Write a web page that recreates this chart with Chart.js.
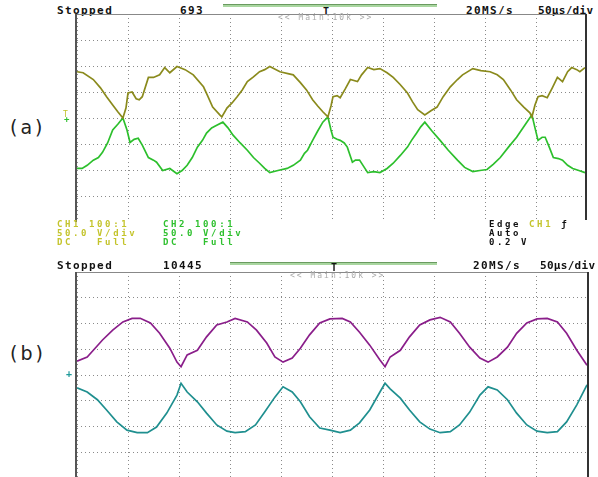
<!DOCTYPE html>
<html>
<head>
<meta charset="utf-8">
<script src="https://cdn.jsdelivr.net/npm/chart.js@4.4.0/dist/chart.umd.min.js"></script>
<style>
body{margin:0;background:#fff;overflow:hidden;}
#page{position:relative;width:598px;height:477px;overflow:hidden;font-family:"DejaVu Sans Mono",monospace;}
.t{position:absolute;white-space:pre;font-size:9px;line-height:9px;letter-spacing:2.6px;}
.h{font-size:11px;line-height:11px;letter-spacing:1.4px;font-weight:bold;color:#111;}
.y{color:#c4c42c;font-weight:bold;}
.g{color:#2fc02f;font-weight:bold;}
.k{color:#111;font-weight:bold;}
.m{font-size:8px;line-height:8px;letter-spacing:2px;color:#aaa;}
.lab{position:absolute;font-family:"DejaVu Sans",sans-serif;font-size:19px;letter-spacing:3px;color:#222;}
.ln{position:absolute;}
.box{position:absolute;}
</style>
</head>
<body>
<div id="page">
  <!-- panel (a) header -->
  <div class="t h" style="left:57px;top:5px">Stopped</div>
  <div class="t h" style="left:180px;top:5px">693</div>
  <div class="ln" style="left:223px;top:4px;width:214px;height:2px;background:#a9d6a0;border-top:1px solid #6a9a60"></div>
  <div class="t h" style="left:323px;top:6px;font-size:10px">T</div>
  <div class="t h" style="left:466px;top:5px">20MS/s</div>
  <div class="t h" style="left:538px;top:5px;letter-spacing:0.3px">50µs/div</div>

  <div class="box" style="left:77px;top:14px;width:510px;height:208px"><canvas id="scopeA" width="510" height="208"></canvas></div>
  <div class="ln" style="left:76px;top:14px;width:511px;height:1px;background:#888"></div>
  <div class="ln" style="left:75px;top:14px;width:2px;height:208px;background:#555"></div>
  <div class="ln" style="left:585px;top:14px;width:2px;height:206px;background:#333"></div>
  <div class="t m" style="left:278px;top:14px">&lt;&lt; Main:10k &gt;&gt;</div>
  <div class="t" style="left:63px;top:110px;font-size:8px;color:#c2c22a">T</div>
  <div class="t" style="left:64px;top:115px;font-size:9px;color:#2fc02f;font-weight:bold">+</div>

  <!-- panel (a) footer -->
  <div class="t y" style="left:57px;top:220px">CH1 100:1</div>
  <div class="t y" style="left:57px;top:229px">50.0 V/div</div>
  <div class="t y" style="left:57px;top:238px">DC   Full</div>
  <div class="t g" style="left:163px;top:220px">CH2 100:1</div>
  <div class="t g" style="left:163px;top:229px">50.0 V/div</div>
  <div class="t g" style="left:163px;top:238px">DC   Full</div>
  <div class="t k" style="left:489px;top:220px">Edge <span class="y">CH1</span> ƒ</div>
  <div class="t k" style="left:489px;top:229px">Auto</div>
  <div class="t k" style="left:489px;top:238px">0.2 V</div>

  <div class="lab" style="left:10px;top:116px">(a)</div>

  <!-- panel (b) header -->
  <div class="t h" style="left:57px;top:260px">Stopped</div>
  <div class="t h" style="left:163px;top:260px">10445</div>
  <div class="ln" style="left:230px;top:262px;width:207px;height:2px;background:#a9d6a0;border-top:1px solid #6a9a60"></div>
  <div class="t h" style="left:331px;top:262px;font-size:10px">T</div>
  <div class="t h" style="left:473px;top:260px">20MS/s</div>
  <div class="t h" style="left:540px;top:260px;letter-spacing:0.3px">50µs/div</div>

  <div class="box" style="left:77px;top:272px;width:510px;height:206px"><canvas id="scopeB" width="510" height="206"></canvas></div>
  <div class="ln" style="left:76px;top:272px;width:511px;height:1px;background:#888"></div>
  <div class="ln" style="left:75px;top:272px;width:2px;height:206px;background:#555"></div>
  <div class="ln" style="left:587px;top:272px;width:2px;height:206px;background:#333"></div>
  <div class="t m" style="left:290px;top:272px">&lt;&lt; Main:10k &gt;&gt;</div>
  <div class="t" style="left:66px;top:369px;font-size:10px;color:#1f9a9a;font-weight:bold">+</div>

  <div class="lab" style="left:10px;top:342px">(b)</div>
</div>

<script>
// time in us, voltage in V (50 V/div, 50 us/div)
const tOlive = [0,6,16,23,29,35,40,45,48,50,54,58,61,64,70,75,81,86,91,98,106,114,124,128,133,140,142,147,152,157,162,167,173,179,184,189,199,212,219,225,231,236,241,246,249,251,255,258,263,268,275,279,285,291,297,304,310,317,324,329,334,341,347,353,359,366,373,378,388,396,405,412,418,425,431,438,444,446,449,452,456,461,466,471,476,481,485,490,493,498];
const vOlive = [89,87,74,58,41,25,12,0,19,48,50,37,35,41,78,78,83,97,87,99,93,83,60,43,21,6,2,19,29,41,54,70,79,89,93,99,89,83,68,54,35,23,12,2,23,41,43,39,56,74,70,83,97,93,95,87,78,64,48,31,16,6,14,21,41,60,74,83,95,91,89,83,74,54,35,21,10,2,25,41,43,39,58,78,70,89,97,93,89,97];

const tGreen = [0,5,10,16,21,25,30,35,40,45,49,52,56,60,64,70,75,78,84,91,98,103,108,113,118,123,127,132,137,143,148,153,160,167,173,179,184,189,197,206,212,219,223,226,231,236,241,246,249,251,255,258,262,265,270,273,277,281,285,291,297,304,310,317,324,328,333,337,341,348,356,364,373,380,388,395,402,408,415,423,431,439,446,449,452,456,459,463,467,472,476,481,486,492,498];
const vGreen = [-97,-97,-91,-81,-76,-66,-48,-23,-12,0,-23,-47,-41,-39,-52,-76,-81,-85,-101,-97,-107,-101,-91,-76,-56,-43,-29,-19,-14,-8,-19,-33,-48,-62,-76,-87,-97,-105,-101,-97,-91,-81,-68,-62,-43,-25,-8,2,-23,-37,-41,-43,-48,-56,-85,-81,-81,-93,-105,-103,-105,-97,-87,-72,-56,-43,-29,-17,-8,-25,-43,-62,-81,-95,-103,-101,-99,-89,-76,-56,-37,-14,6,-19,-43,-37,-37,-56,-76,-78,-81,-91,-97,-101,-105];

const tPurple = [0,10,16,25,35,45,54,62,72,81,91,98,102,108,118,127,137,147,155,167,176,186,194,202,211,219,228,238,248,260,268,277,287,297,302,307,317,326,336,346,356,366,375,385,395,403,412,422,431,441,451,461,471,480,490,500];
const vPurple = [27,35,48,68,87,103,110,110,101,81,52,25,16,39,48,74,97,103,110,103,87,62,35,25,33,52,78,101,109,110,103,83,58,29,16,35,48,74,97,107,112,103,81,54,33,25,35,54,81,101,109,110,103,81,48,19];

const tTeal = [0,10,20,29,39,49,59,69,78,88,98,102,108,118,127,137,147,155,165,175,184,194,202,211,219,228,238,248,258,268,277,287,297,302,307,317,326,336,346,356,366,375,385,395,403,412,422,431,441,451,461,471,480,490,500];
const vTeal = [-25,-33,-48,-68,-91,-107,-112,-112,-101,-74,-39,-16,-33,-52,-74,-97,-109,-112,-110,-97,-72,-43,-23,-33,-52,-81,-103,-107,-112,-107,-93,-68,-33,-16,-27,-45,-68,-91,-105,-112,-110,-97,-72,-39,-23,-29,-48,-74,-97,-109,-112,-110,-91,-58,-19];

function pares(ts, vs){
    return ts.map((t, i) => ({x: t, y: vs[i]}));
}

function traza(ts, vs, color){
    return {
        data: pares(ts, vs),
        borderColor: color,
        borderWidth: 1.7,
        pointRadius: 0,
        tension: 0,
        fill: false
    };
}

function ejes(){
    const grid = {color: '#8a8a8a', drawTicks: false, lineWidth: 1};
    return {
        x: {type: 'linear', min: 0, max: 500,
            ticks: {display: false, stepSize: 50},
            grid: grid, border: {display: false, dash: [1, 3]}},
        y: {type: 'linear', min: -200, max: 200,
            ticks: {display: false, stepSize: 50},
            grid: grid, border: {display: false, dash: [1, 3]}}
    };
}

function osciloscopio(id, datasets){
    return new Chart(document.getElementById(id), {
        type: 'line',
        data: {datasets: datasets},
        options: {
            responsive: false,
            animation: false,
            parsing: false,
            layout: {padding: 0},
            plugins: {legend: {display: false}, tooltip: {enabled: false}},
            scales: ejes()
        }
    });
}

osciloscopio('scopeA', [
    traza(tOlive, vOlive, '#8a8a1c'),
    traza(tGreen, vGreen, '#2cbf2c')
]);

osciloscopio('scopeB', [
    traza(tPurple, vPurple, '#8a1e8a'),
    traza(tTeal, vTeal, '#1f8f8f')
]);
</script>
</body>
</html>
